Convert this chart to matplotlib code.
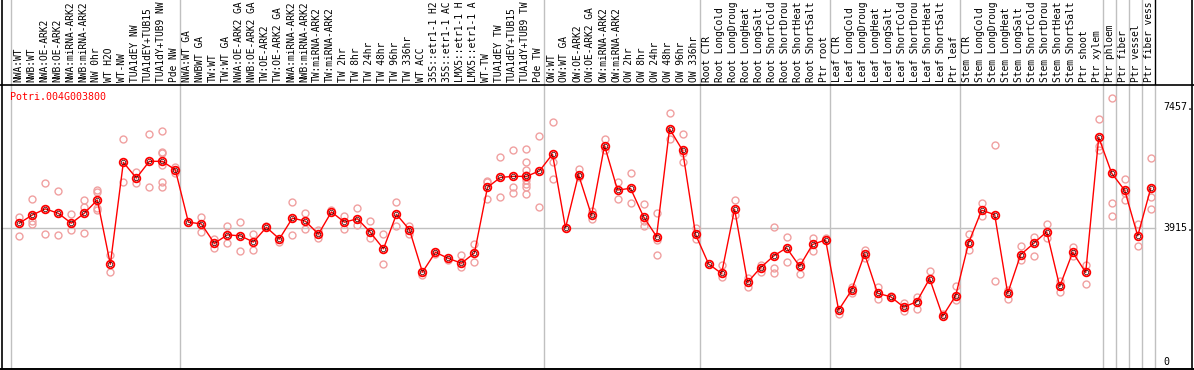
import numpy as np
import matplotlib
matplotlib.use('Agg')
import matplotlib.pyplot as plt
from matplotlib.lines import Line2D

gene = 'Potri.004G003800'

# sample names as printed (cut to 14 characters, like the reference)
samples = ['NWA:WT', 'NWB:WT', 'NWA:OE-ARK2', 'NWB:OE-ARK2', 'NWA:miRNA-ARK2', 'NWB:miRNA-ARK2',
           'NW 0hr', 'WT H2O', 'WT-NW', 'TUA1dEY NW', 'TUA1dEY+TUB15', 'TUA1dY+TUB9 NW', 'Pde NW',
           'NWA:WT GA', 'NWBWT GA', 'TW:WT', 'TW:WT GA', 'NWA:OE-ARK2 GA', 'NWB:OE-ARK2 GA',
           'TW:OE-ARK2', 'TW:OE-ARK2 GA', 'NWA:miRNA-ARK2', 'NWB:miRNA-ARK2', 'TW:miRNA-ARK2',
           'TW:miRNA-ARK2', 'TW 2hr', 'TW 8hr', 'TW 24hr', 'TW 48hr', 'TW 96hr', 'TW 336hr', 'WT ACC',
           '35S::etr1-1 H2', '35S::etr1-1 AC', 'LMX5::etr1-1 H', 'LMX5::etr1-1 A', 'WT-TW',
           'TUA1dEY TW', 'TUA1dEY+TUB15', 'TUA1dY+TUB9 TW', 'Pde TW',
           'OW:WT', 'OW:WT GA', 'OW:OE-ARK2', 'OW:OE-ARK2 GA', 'OW:miRNA-ARK2', 'OW:miRNA-ARK2',
           'OW 2hr', 'OW 8hr', 'OW 24hr', 'OW 48hr', 'OW 96hr', 'OW 336hr',
           'Root CTR', 'Root LongCold', 'Root LongDroug', 'Root LongHeat', 'Root LongSalt',
           'Root ShortCold', 'Root ShortDrou', 'Root ShortHeat', 'Root ShortSalt', 'Ptr root',
           'Leaf CTR', 'Leaf LongCold', 'Leaf LongDroug', 'Leaf LongHeat', 'Leaf LongSalt',
           'Leaf ShortCold', 'Leaf ShortDrou', 'Leaf ShortHeat', 'Leaf ShortSalt', 'Ptr leaf',
           'Stem CTR', 'Stem LongCold', 'Stem LongDroug', 'Stem LongHeat', 'Stem LongSalt',
           'Stem ShortCold', 'Stem ShortDrou', 'Stem ShortHeat', 'Stem ShortSalt', 'Ptr shoot',
           'Ptr xylem', 'Ptr phloem', 'Ptr fiber', 'Ptr vessel', 'Ptr fiber vess']

# first column of each group (gray separators)
group_starts = [0, 13, 41, 53, 63, 73, 84, 85, 86, 87]

means = [4050, 4290, 4470, 4340, 4050, 4340, 4730, 2850, 5830, 5370, 5860, 5860, 5610,
         4080, 4030, 3460, 3710, 3680, 3500, 3930, 3590, 4200, 4110, 3730, 4380, 4080,
         4180, 3780, 3300, 4310, 3860, 2620, 3200, 3020, 2880, 3180, 5100, 5390, 5420,
         5420, 5580, 6070, 3910, 5470, 4280, 6320, 5020, 5070, 4240, 3660, 6810, 6180,
         3720, 2860, 2580, 4460, 2320, 2750, 3090, 3330, 2790, 3430, 3560, 1510, 2090,
         3150, 2000, 1900, 1600, 1750, 2430, 1330, 1930, 3480, 4430, 4300, 2000, 3130,
         3460, 3800, 2200, 3200, 2610, 6560, 5510, 5010, 3680, 5070]

reps = [[4240, 3680], [4760, 4110, 4020], [5230, 3730], [4990, 3710], [4310, 3850],
        [4730, 4510, 3750], [5020, 4950, 4490, 4440], [3120, 2610], [6500, 5250],
        [5560, 5220], [6660, 5110], [6750, 6130, 6090, 5750, 5260, 5120], [5700, 5530],
        [], [4240, 3790], [3590, 3330], [3970, 3460], [4090, 3230], [3730, 3260],
        [3970], [3510], [4670, 3710], [4340, 3870], [3850, 3630], [4440], [4260, 3870],
        [4490, 4000], [4110, 3610], [3720, 2860], [4670, 3970], [3970, 3720], [2530],
        [3140], [2970], [3120, 2760], [3440, 2930], [5290, 5250, 4760], [5980, 4810],
        [6180, 5100, 4920], [6210, 5840, 5610, 5460, 5310, 5200, 5100, 4890], [6590, 4520],
        [7000, 5850, 5330], [], [5640, 5390], [4420, 4160], [6500, 6180], [5250, 4750],
        [5510, 4630], [4600, 4100, 3970], [4340, 3560, 3110], [7260, 6500],
        [6650, 6090, 5830], [3920, 3580], [], [2840, 2470], [4720, 4290], [2440, 2190],
        [2830, 2630], [3940, 2750, 2600], [3640, 2910], [2930, 2570], [3610, 3250],
        [3620], [1400], [2170, 2000], [3270, 3020], [2170, 1830], [1920], [1710, 1490],
        [1880, 1540], [2640], [1400], [2210, 1800], [3720, 3270], [4630, 4260],
        [6330, 2360], [2100, 1830], [3380, 2970], [3650, 3080], [4030, 3610], [2360, 2030],
        [3360, 3100], [2840, 2260], [7090, 6310, 6190], [7700, 4630, 4260],
        [5330, 4940, 4730], [4020, 3370], [5950, 4810, 4460]]

ticks = [7457, 3915, 0]

W, H = 1194, 370
fig = plt.figure(figsize=(W / 100, H / 100), dpi=100)

# pixel -> data mapping for columns
x0, dx = 19.3, 13.005
xl = ((1 - x0) / dx, (1192 - x0) / dx)
y_zero, y_scale = 361.7, 0.034196
yl = ((y_zero - 369) / y_scale, (y_zero - 85) / y_scale)

ax = fig.add_axes([1 / W, 1 - 369 / H, 1191 / W, 284 / H])
lab = fig.add_axes([1 / W, 1 - 85 / H, 1191 / W, 85 / H])
for a in (ax, lab):
    a.set_xlim(*xl)
    a.axis('off')
ax.set_ylim(*yl)
lab.set_ylim(0, 85)

right_edge = (1155 - x0) / dx
seps = [g - 0.65 for g in group_starts]
for s in seps:
    ax.axvline(s, color='#c0c0c0', lw=1)
    lab.axvline(s, color='#c0c0c0', lw=1)
ax.axvline(right_edge, color='#c0c0c0', lw=1)
lab.axvline(right_edge, color='black', lw=1)
ax.plot([xl[0], right_edge], [ticks[1], ticks[1]], color='#c0c0c0', lw=1)

mono = 'DejaVu Sans Mono'
for i, s in enumerate(samples):
    lab.text(i - 0.1, 2.5, s, rotation=90, ha='center', va='bottom',
             fontsize=6.9, family=mono, color='black')

x = np.arange(len(means))
for i, r in enumerate(reps):
    if len(r) > 0:
        ax.plot([i] * len(r), r, 'o', ms=5, mfc='none', mec='#f0a0a0', mew=1)
ax.plot(x, means, '-', color='red', lw=1)
ax.plot(x, means, 'o', ms=5.5, mfc='none', mec='red', mew=1.3)
ax.plot(x, means, 'o', ms=3.2, mfc='none', mec='#400000', mew=0.5)

tx = (1163 - x0) / dx
for t in ticks:
    ax.text(tx, t, '%d.' % t if t > 0 else '0', ha='left', va='center',
            fontsize=7.2, family=mono, color='black')

fig.text(10 / W, 1 - 97 / H, gene, ha='left', va='center', fontsize=7.2,
         family=mono, color='red')

# black frame lines
fig.add_artist(Line2D([1.5 / W, 1.5 / W], [0, 1], color='black', lw=1.2))
fig.add_artist(Line2D([1191.5 / W, 1191.5 / W], [0, 1], color='black', lw=1.2))
fig.add_artist(Line2D([0, 1], [1 - 85 / H, 1 - 85 / H], color='black', lw=1.2))
fig.add_artist(Line2D([0, 1], [1 - 368.8 / H, 1 - 368.8 / H], color='black', lw=1.4))

fig.savefig('out.png', dpi=100)
